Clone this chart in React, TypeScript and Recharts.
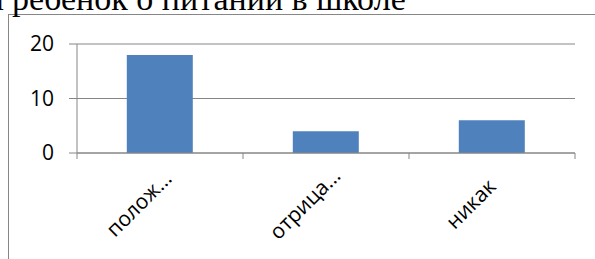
import React from 'react';
import { BarChart, Bar, XAxis, YAxis, CartesianGrid } from 'recharts';

const categories = ['полож…', 'отрица…', 'никак'];
const counts = [18, 4, 6];
const yTicks = [0, 10, 20];

const data = categories.map((name, i) => ({ name, value: counts[i] }));

const GRID = '#868686';
const BAR = '#4F81BD';
const FONT = '"Open Sans", "Noto Sans", sans-serif';

// Excel-style category ticks: tick marks sit on the band edges, labels rotated -45deg
const XTick = (props: any) => {
    const { x, y, payload, index, width } = props;
    const half = payload?.offset ?? (width ? width / categories.length / 2 : 0);
    const last = index === categories.length - 1;
    const lx = x - 16;
    const ly = y + 56;
    return (
        <g>
            <line x1={x - half} y1={y} x2={x - half} y2={y + 6} stroke={GRID} />
            {last && <line x1={x + half} y1={y} x2={x + half} y2={y + 6} stroke={GRID} />}
            <text
                x={lx}
                y={ly}
                textAnchor="middle"
                transform={`rotate(-45 ${lx} ${ly})`}
                fontFamily={FONT}
                fontSize={21}
                fill="#000"
            >
                {payload.value}
            </text>
        </g>
    );
};

export default function App() {
    return (
        <div style={{ position: 'fixed', left: 0, top: 0, width: 595, height: 259, overflow: 'hidden', background: '#fff' }}>
            {/* chart frame, cut off on the right and bottom */}
            <div style={{ position: 'absolute', left: 8, top: 14, width: 700, height: 400, borderTop: `1px solid ${GRID}`, borderLeft: `1px solid ${GRID}` }} />
            <svg width={595} height={20} style={{ position: 'absolute', left: 0, top: 0 }}>
                <text x={4} y={10} textAnchor="end" fontFamily='"Liberation Serif", serif' fontSize={34} fill="#000">ваш</text>
                <text x={12} y={10} fontFamily='"Liberation Serif", serif' fontSize={34} fill="#000">ребенок о питании в школе</text>
            </svg>
            <div style={{ position: 'absolute', left: 0, top: 0 }}>
                <BarChart
                    width={595}
                    height={259}
                    data={data}
                    margin={{ top: 44, right: 20, bottom: 76, left: 17 }}
                    barCategoryGap="30%"
                >
                    <CartesianGrid vertical={false} stroke={GRID} />
                    <XAxis
                        dataKey="name"
                        interval={0}
                        height={30}
                        stroke={GRID}
                        tickLine={false}
                        tickSize={0}
                        tickMargin={0}
                        tick={<XTick />}
                    />
                    <YAxis
                        width={60}
                        domain={[0, 20]}
                        ticks={yTicks}
                        interval={0}
                        stroke={GRID}
                        tickSize={8}
                        tickMargin={15}
                        tick={{ fill: '#000', fontSize: 21, fontFamily: FONT }}
                    />
                    <Bar dataKey="value" fill={BAR} isAnimationActive={false} />
                </BarChart>
            </div>
        </div>
    );
}
